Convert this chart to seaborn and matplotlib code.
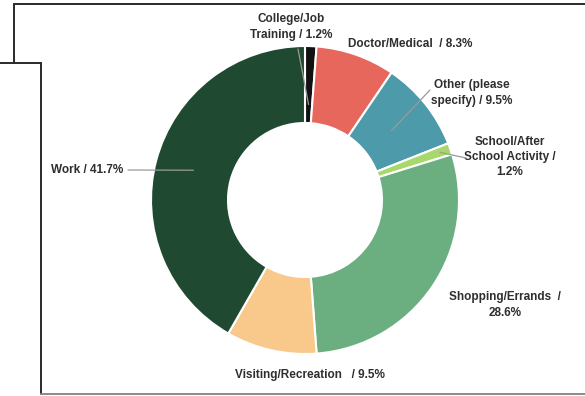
import numpy as np
import matplotlib
matplotlib.use("Agg")
import matplotlib.pyplot as plt
import seaborn as sns

categories = ["College/Job Training", "Doctor/Medical", "Other (please specify)",
              "School/After School Activity", "Shopping/Errands",
              "Visiting/Recreation", "Work"]
values = [1.2, 8.3, 9.5, 1.2, 28.6, 9.5, 41.7]
labels = ["College/Job\nTraining / 1.2%", "Doctor/Medical  / 8.3%",
          "Other (please\nspecify) / 9.5%", "School/After\nSchool Activity /\n1.2%",
          "Shopping/Errands  /\n28.6%", "Visiting/Recreation   / 9.5%", "Work / 41.7%"]
colors = ["#111111", "#E8675C", "#4C9AAA", "#A8D86C", "#6BAE7F", "#F8C98B", "#1F4A31"]

sns.set_theme(style="white")
plt.rcParams['font.family'] = ['Liberation Sans Narrow', 'Liberation Sans', 'DejaVu Sans']

W, H = 585, 396
fig = plt.figure(figsize=(W / 100, H / 100), dpi=100)
ax = fig.add_axes([0, 0, 1, 1])

cx, cy, R = 305, H - 200, 154
wedges, _ = ax.pie(values, colors=colors, startangle=90, counterclock=False,
                   center=(cx, cy), radius=R, frame=True,
                   wedgeprops=dict(width=R * 0.5, edgecolor='white', linewidth=1.5))
ax.set_xlim(0, W)
ax.set_ylim(0, H)
ax.set_aspect('equal')
ax.axis('off')

# label positions (pixel coords, y from top)
label_pos = [(291, 27), (410, 44), (472, 93), (510, 157), (505, 305), (310, 375), (87, 170)]
leader = {0: ((298, 49), 0.62), 2: ((430, 90), 0.72), 3: ((466, 158), 0.93), 6: ((128, 170), 0.75)}

for i, (lab, (px, py)) in enumerate(zip(labels, label_pos)):
    ax.text(px, H - py, lab, ha='center', va='center', fontsize=8.5,
            fontweight='bold', color='#2e2e2e', linespacing=1.35)

for i, ((sx, sy), rf) in leader.items():
    w = wedges[i]
    ang = np.deg2rad((w.theta1 + w.theta2) / 2)
    ex = cx + R * rf * np.cos(ang)
    ey = cy + R * rf * np.sin(ang)
    ax.annotate('', xy=(ex, ey), xytext=(sx, H - sy),
                arrowprops=dict(arrowstyle='-', color='#9a9a9a', lw=0.9,
                                shrinkA=0, shrinkB=0))

# scanned frame lines
def fline(xs, ys, c='#2a2a2a'):
    fig.add_artist(plt.Line2D([x / W for x in xs], [1 - y / H for y in ys],
                              color=c, lw=1.4, transform=fig.transFigure))

fline([14, 585], [4, 4])
fline([14, 14], [4, 63])
fline([0, 41], [63, 63])
fline([41, 41], [63, 394])
fline([41, 585], [394, 394], c='#8a8a8a')

fig.savefig("out.png", dpi=100)
